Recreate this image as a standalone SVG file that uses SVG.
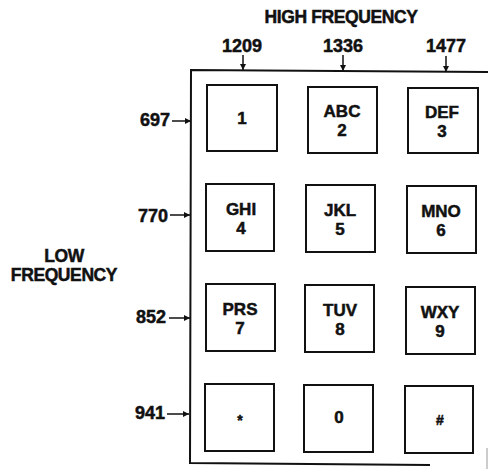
<svg xmlns="http://www.w3.org/2000/svg" width="488" height="469" viewBox="0 0 488 469">
<style>
text{font-family:"Liberation Sans",Arial,sans-serif;font-weight:bold;fill:#111;stroke:#111;stroke-width:0.5;text-anchor:middle}
.lbl{font-size:18px}
.title{font-size:17.5px;letter-spacing:-0.4px}
.key rect{fill:#fff;stroke:#111;stroke-width:2}
.key text{font-size:17px}
.frame{fill:none;stroke:#111;stroke-width:2}
.arr{stroke:#111;stroke-width:1.5;fill:none;marker-end:url(#ah)}
</style>
<defs>
<marker id="ah" viewBox="0 0 10 10" refX="10" refY="5" markerWidth="6" markerHeight="6" markerUnits="userSpaceOnUse" orient="auto">
<path d="M0,0 L10,5 L0,10 z" fill="#111"/>
</marker>
</defs>
<g id="frame">
<path class="frame" d="M488,72 L191,70 L190,463 L430,465"/>
<line x1="487" y1="448" x2="487" y2="469" stroke="#999" stroke-width="1"/>
</g>
<g id="labels">
<text class="title" x="341" y="23">HIGH FREQUENCY</text>
<text class="title" x="64" y="262">LOW</text>
<text class="title" x="64" y="281">FREQUENCY</text>
<text class="lbl" x="242" y="52">1209</text>
<text class="lbl" x="343" y="52">1336</text>
<text class="lbl" x="446" y="52">1477</text>
<text class="lbl" x="155" y="126">697</text>
<text class="lbl" x="153" y="222">770</text>
<text class="lbl" x="151" y="323">852</text>
<text class="lbl" x="150" y="419">941</text>
</g>
<g id="connectors">
<line class="arr" x1="243" y1="55" x2="243" y2="70"/>
<line class="arr" x1="343" y1="55" x2="343" y2="71"/>
<line class="arr" x1="446" y1="56" x2="446" y2="72"/>
<line class="arr" x1="172" y1="121" x2="191" y2="121"/>
<line class="arr" x1="170" y1="215" x2="190" y2="215"/>
<line class="arr" x1="169" y1="318" x2="190" y2="318"/>
<line class="arr" x1="167" y1="414" x2="189" y2="414"/>
</g>
<g id="key1" class="key"><rect x="207" y="85" width="70" height="66"/><text x="242" y="124">1</text></g>
<g id="key2" class="key"><rect x="308" y="87" width="69" height="66"/><text x="342" y="117">ABC</text><text x="342" y="136">2</text></g>
<g id="key3" class="key"><rect x="408" y="88" width="70" height="65"/><text x="442" y="118">DEF</text><text x="442" y="137">3</text></g>
<g id="key4" class="key"><rect x="206" y="184" width="68" height="67"/><text x="241" y="215">GHI</text><text x="241" y="234">4</text></g>
<g id="key5" class="key"><rect x="306" y="185" width="69" height="67"/><text x="340" y="216">JKL</text><text x="340" y="235">5</text></g>
<g id="key6" class="key"><rect x="407" y="186" width="69" height="67"/><text x="441" y="217">MNO</text><text x="441" y="236">6</text></g>
<g id="key7" class="key"><rect x="206" y="284" width="69" height="67"/><text x="240" y="315">PRS</text><text x="240" y="334">7</text></g>
<g id="key8" class="key"><rect x="305" y="285" width="69" height="67"/><text x="340" y="316">TUV</text><text x="340" y="335">8</text></g>
<g id="key9" class="key"><rect x="406" y="287" width="69" height="67"/><text x="440" y="318">WXY</text><text x="440" y="337">9</text></g>
<g id="keystar" class="key"><rect x="205" y="384" width="69" height="67"/><text x="240" y="425" style="font-size:14px">*</text></g>
<g id="key0" class="key"><rect x="304" y="385" width="69" height="67"/><text x="339" y="423">0</text></g>
<g id="keyhash" class="key"><rect x="405" y="386" width="68" height="67"/><text x="440" y="425" style="font-size:14px">#</text></g>
</svg>
